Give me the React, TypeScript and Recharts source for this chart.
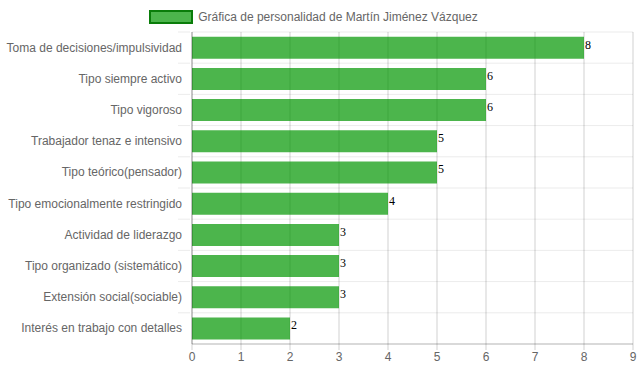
import { BarChart, Bar, XAxis, YAxis, CartesianGrid, Legend, LabelList } from 'recharts';

const categories = [
  'Toma de decisiones/impulsividad',
  'Tipo siempre activo',
  'Tipo vigoroso',
  'Trabajador tenaz e intensivo',
  'Tipo teórico(pensador)',
  'Tipo emocionalmente restringido',
  'Actividad de liderazgo',
  'Tipo organizado (sistemático)',
  'Extensión social(sociable)',
  'Interés en trabajo con detalles',
];
const scores = [8, 6, 6, 5, 5, 4, 3, 3, 3, 2];
const xTicks = [0, 1, 2, 3, 4, 5, 6, 7, 8, 9];
const seriesName = 'Gráfica de personalidad de Martín Jiménez Vázquez';

const data = categories.map((name, i) => ({ name, value: scores[i] }));

const SANS = '"Liberation Sans", Arial, sans-serif';
const SERIF = '"Liberation Serif", "Times New Roman", serif';

// y tick: label + light grid stub left of the axis at the band boundary
function CategoryTick(props: any) {
  const { x, y, payload } = props;
  const band = 312 / categories.length;
  return (
    <g>
      <line x1={x - 6} x2={x + 6} y1={y - band / 2} y2={y - band / 2} stroke="rgba(0,0,0,0.08)" />
      <text x={x - 2} y={y} dy={4} textAnchor="end" fill="#666" fontSize={12} fontFamily={SANS}>
        {payload.value}
      </text>
    </g>
  );
}

function ValueLabel(props: any) {
  const { x, y, width, height, value } = props;
  return (
    <text x={x + width + 1} y={y + height / 2 + 1} fill="#000" fontSize={12} fontFamily={SERIF}>
      {value}
    </text>
  );
}

function LegendBox() {
  return (
    <div style={{ height: 24, display: 'flex', justifyContent: 'center', alignItems: 'flex-start' }}>
      <div style={{ display: 'flex', alignItems: 'center', marginTop: 2, marginRight: 12 }}>
        <span
          style={{
            display: 'inline-block',
            width: 40,
            height: 10,
            background: 'rgba(0,150,0,0.7)',
            border: '2px solid #0a7d0a',
            marginRight: 5,
          }}
        ></span>
        <span style={{ fontFamily: SANS, fontSize: 12, color: '#666' }}>{seriesName}</span>
      </div>
    </div>
  );
}

export default function App() {
  return (
    <div style={{ position: 'absolute', left: 0, top: 0, background: '#fff' }}>
      <BarChart
        width={639}
        height={372}
        data={data}
        layout="vertical"
        margin={{ top: 8, right: 6, left: 0, bottom: 0 }}
        barCategoryGap="15%"
      >
        <Legend verticalAlign="top" content={() => <LegendBox />} wrapperStyle={{ left: 0, width: 639 }} />
        <CartesianGrid
          vertical={false}
          stroke="rgba(0,0,0,0.08)"
          horizontalCoordinatesGenerator={({ offset }: any) =>
            categories.map((_, i) => offset.top + (i * offset.height) / categories.length)
          }
        />
        <CartesianGrid
          horizontal={false}
          stroke="rgba(0,0,0,0.18)"
          verticalCoordinatesGenerator={({ offset }: any) =>
            xTicks.map((t) => offset.left + (t / 9) * offset.width)
          }
        />
        <XAxis
          type="number"
          domain={[0, 9]}
          ticks={xTicks}
          height={28}
          tickSize={6}
          tickMargin={2}
          axisLine={{ stroke: 'rgba(0,0,0,0.3)' }}
          tickLine={{ stroke: 'rgba(0,0,0,0.18)' }}
          tick={{ fill: '#666', fontSize: 12, fontFamily: SANS }}
        />
        <YAxis
          type="category"
          dataKey="name"
          width={192}
          tickLine={false}
          axisLine={{ stroke: 'rgba(0,0,0,0.3)' }}
          tick={<CategoryTick />}
          interval={0}
        />
        <Bar dataKey="value" name={seriesName} fill="rgb(0,150,0)" fillOpacity={0.7} isAnimationActive={false}>
          <LabelList dataKey="value" content={<ValueLabel />} />
        </Bar>
      </BarChart>
    </div>
  );
}
